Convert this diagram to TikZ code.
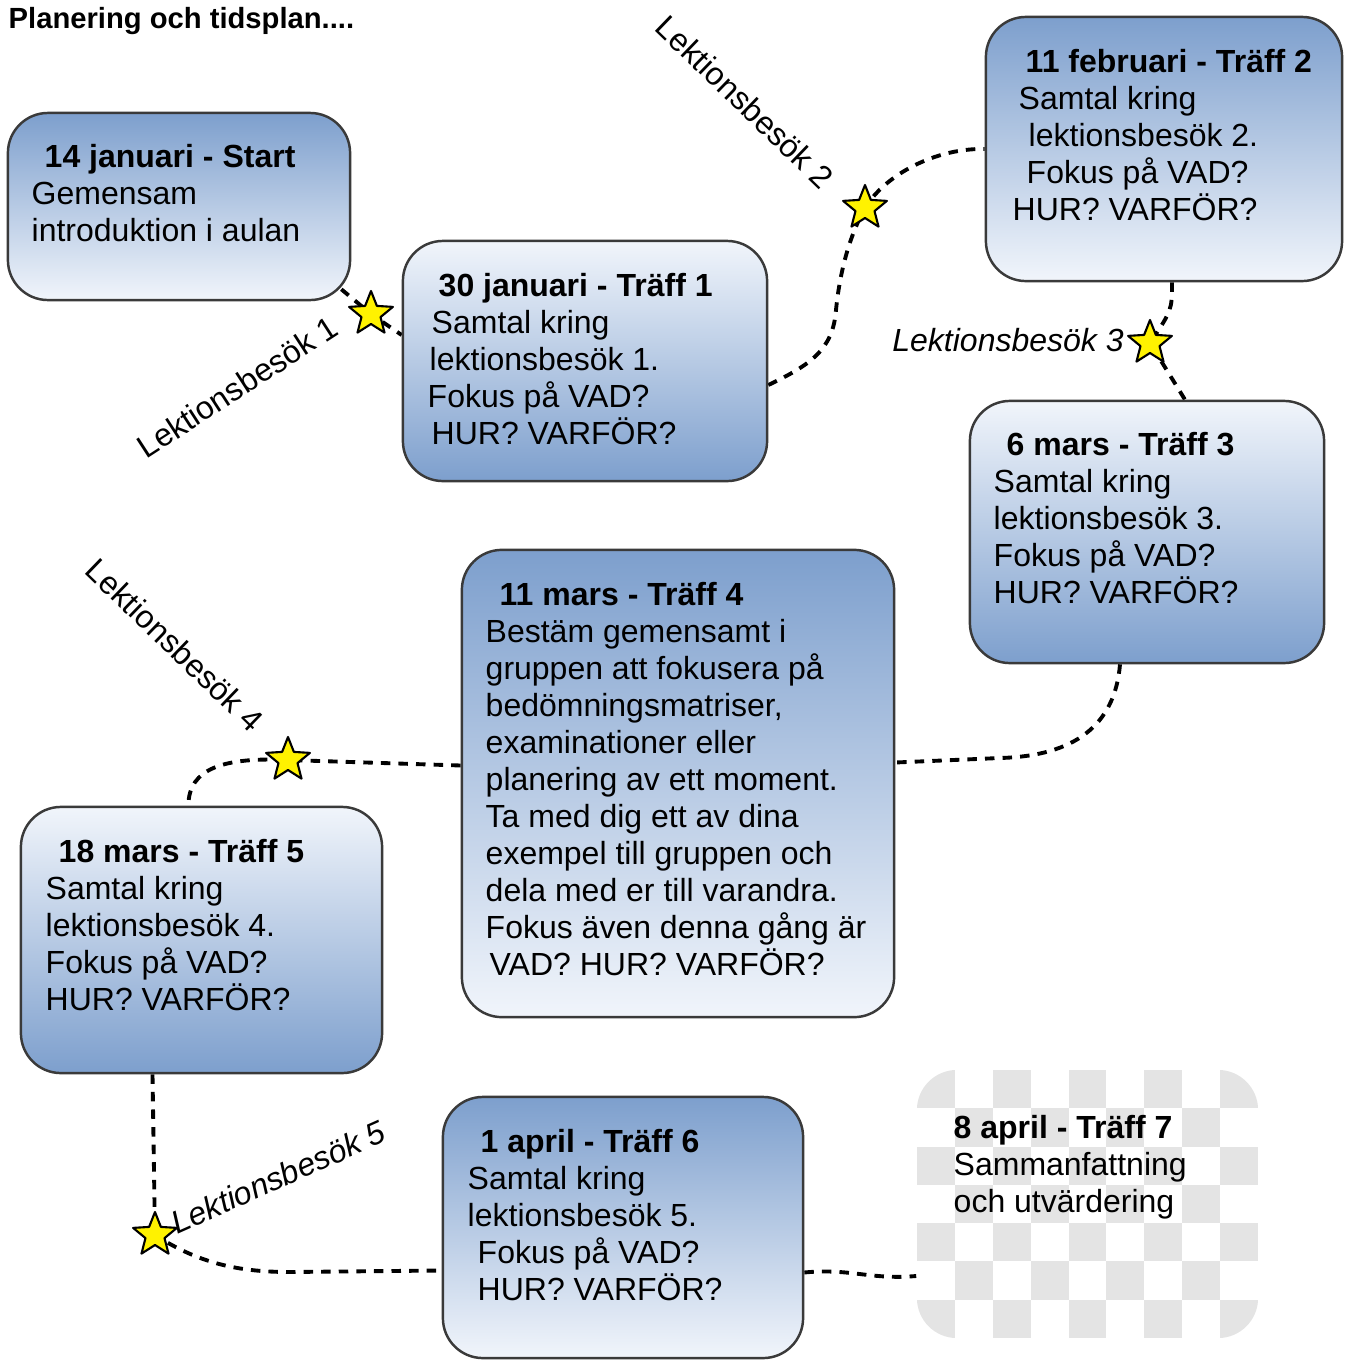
\documentclass[tikz,border=0pt]{standalone}
\usepackage{fontspec}
\setmainfont{Liberation Sans}
\usetikzlibrary{shapes.geometric,calc,backgrounds}
\definecolor{morkbla}{HTML}{7D9FCD}
\definecolor{ljusbla}{HTML}{F1F5FB}
\definecolor{rutgra}{HTML}{E4E4E4}
\definecolor{kant}{HTML}{3A3A3A}
\begin{document}
\begin{tikzpicture}[x=0.01cm, y=-0.01cm, line join=round,
  font=\fontsize{9.1}{10.5}\selectfont,
  ruta/.style={draw=kant, line width=0.7pt, rounded corners=0.4cm, inner sep=0pt},
  nedljus/.style={ruta, top color=morkbla, bottom color=ljusbla},
  uppljus/.style={ruta, top color=ljusbla, bottom color=morkbla},
  rader/.style={anchor=north west, align=left, inner sep=0pt},
  stjarna/.style={star, star points=5, star point ratio=2.3, minimum size=0.46cm, inner sep=0pt, fill=yellow, draw=black, line width=0.6pt},
  stig/.style={dash pattern=on 2.7pt off 2.3pt, line width=1.1pt, line cap=butt},
  besok/.style={inner sep=0pt}]
\useasboundingbox (0,0) rectangle (1344,1360);
\clip (0,0) rectangle (1344,1360);

\node[anchor=base west, inner sep=0pt, font=\fontsize{8.3}{10}\selectfont\bfseries] (rubrik) at (8,28) {Planering och tidsplan....};

\node[nedljus, minimum width=3.42cm, minimum height=1.87cm] (t0) at (179,206.5) {};
\node[uppljus, minimum width=3.64cm, minimum height=2.40cm] (t1) at (585,361) {};
\node[nedljus, minimum width=3.56cm, minimum height=2.64cm] (t2) at (1164,149) {};
\node[uppljus, minimum width=3.54cm, minimum height=2.62cm] (t3) at (1147,532) {};
\node[nedljus, minimum width=4.32cm, minimum height=4.67cm] (t4) at (678,783.5) {};
\node[uppljus, minimum width=3.61cm, minimum height=2.66cm] (t5) at (201.5,940) {};
\node[nedljus, minimum width=3.60cm, minimum height=2.61cm] (t6) at (623,1227.5) {};
\node[minimum width=3.41cm, minimum height=2.68cm, rounded corners=0.4cm, inner sep=0pt,
  path picture={
    \foreach \i in {0,...,8}
      \foreach \j in {0,...,6}{
        \ifodd\numexpr\i+\j\relax\else
        \fill[rutgra, sharp corners] ($(path picture bounding box.north west)+(\i*37.9,\j*38.3)$) rectangle ++(37.9,38.3);
        \fi}
  }] (t7) at (1087.5,1204) {};

\node[rader] (t0txt) at (31,144) {\hspace*{0.13cm}\textbf{14 januari - Start}\\Gemensam\\introduktion i aulan};
\node[rader] (t1txt) at (427,273) {\hspace*{0.11cm}\textbf{30 januari - Träff 1}\\\hspace*{0.04cm}Samtal kring\\\hspace*{0.02cm}lektionsbesök 1.\\Fokus på VAD?\\\hspace*{0.04cm}HUR? VARFÖR?};
\node[rader] (t2txt) at (1012,49) {\hspace*{0.13cm}\textbf{11 februari - Träff 2}\\\hspace*{0.06cm}Samtal kring\\\hspace*{0.16cm}lektionsbesök 2.\\\hspace*{0.14cm}Fokus på VAD?\\HUR? VARFÖR?};
\node[rader] (t3txt) at (993,432) {\hspace*{0.13cm}\textbf{6 mars - Träff 3}\\Samtal kring\\lektionsbesök 3.\\Fokus på VAD?\\HUR? VARFÖR?};
\node[rader] (t4txt) at (485,582) {\hspace*{0.14cm}\textbf{11 mars - Träff 4}\\Bestäm gemensamt i\\gruppen att fokusera på\\bedömningsmatriser,\\examinationer eller\\planering av ett moment.\\Ta med dig ett av dina\\exempel till gruppen och\\dela med er till varandra.\\Fokus även denna gång är\\\hspace*{0.04cm}VAD? HUR? VARFÖR?};
\node[rader] (t5txt) at (45,839) {\hspace*{0.13cm}\textbf{18 mars - Träff 5}\\Samtal kring\\lektionsbesök 4.\\Fokus på VAD?\\HUR? VARFÖR?};
\node[rader] (t6txt) at (467,1129) {\hspace*{0.13cm}\textbf{1 april - Träff 6}\\Samtal kring\\lektionsbesök 5.\\\hspace*{0.10cm}Fokus på VAD?\\\hspace*{0.10cm}HUR? VARFÖR?};
\node[rader] (t7txt) at (953,1115) {\textbf{8 april - Träff 7}\\Sammanfattning\\och utvärdering};

\node[besok, rotate=33] (l1) at (237,387) {Lektionsbesök 1};
\node[besok, rotate=-44] (l2) at (745,102) {Lektionsbesök 2};
\node[besok] (l3) at (1008,340) {\itshape Lektionsbesök 3};
\node[besok, rotate=-44] (l4) at (175,645) {Lektionsbesök 4};
\node[besok, rotate=24] (l5) at (278,1177) {\itshape Lektionsbesök 5};

\node[stjarna] (s1) at (371,314) {};
\node[stjarna] (s2) at (865,208) {};
\node[stjarna] (s3) at (1150,343) {};
\node[stjarna] (s4) at (288,760) {};
\node[stjarna] (s5) at (155,1235) {};

\begin{pgfonlayer}{background}
\draw[stig] ($(t0.south east)+(-10,-12)$) -- (s1.center) -- ($(t1.west)+(0,-26)$);
\draw[stig] ($(t1.east)+(0,24)$) .. controls (810,365) and (833,350) .. (836,310) .. controls (840,270) and (850,235) .. (s2.center) .. controls (885,175) and (935,148) .. (t2.west);
\draw[stig] ($(t2.south)+(8,0)$) .. controls (1172,310) .. (s3.center) -- ($(t3.north)+(38,0)$);
\draw[stig] ($(t3.south)+(-27,0)$) .. controls (1115,725) and (1075,756) .. (1000,758) -- ($(t4.east)+(0,-21)$);
\draw[stig] ($(t4.west)+(0,-18)$) -- (s4.center) .. controls (225,757) and (188,768) .. ($(t5.north)+(-13,0)$);
\draw[stig] ($(t5.south)+(-49,0)$) -- (s5.center) .. controls (200,1264) and (240,1272) .. (290,1272) -- ($(t6.west)+(0,43)$);
\draw[stig] ($(t6.east)+(0,45)$) .. controls (850,1268) and (870,1280) .. ($(t7.west)+(0,72)$);
\end{pgfonlayer}
\end{tikzpicture}
\end{document}
